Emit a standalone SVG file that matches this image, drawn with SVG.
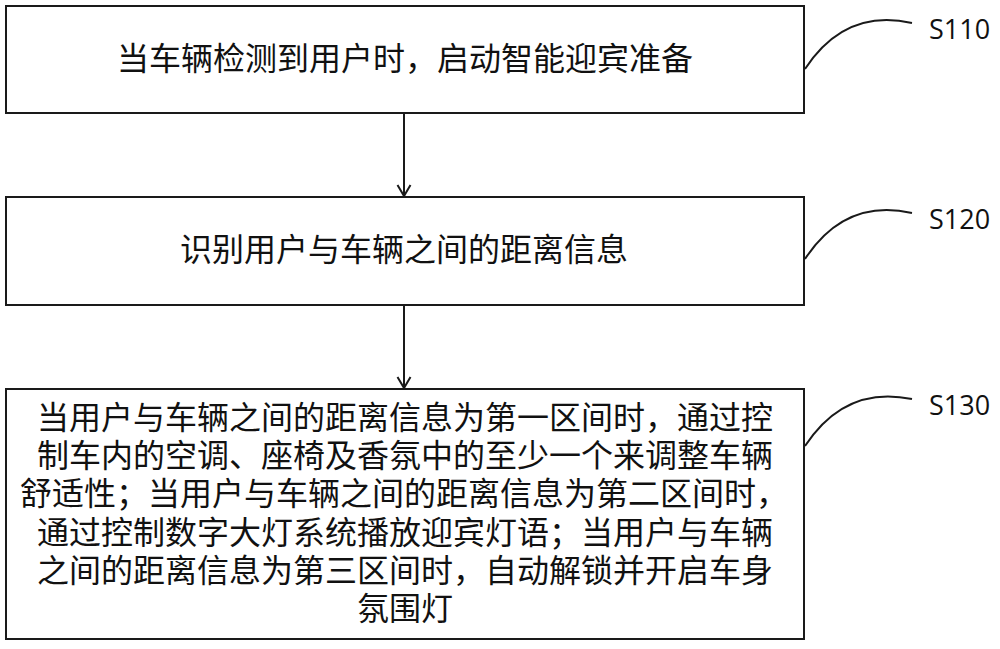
<svg xmlns="http://www.w3.org/2000/svg" width="1000" height="649" viewBox="0 0 1000 649">
<style>
.box{fill:#fff;stroke:#1a1a1a;stroke-width:2}
.t{font-family:"Noto Sans CJK SC","Noto Sans CJK JP",sans-serif;font-size:32px;fill:#111;text-anchor:middle}
.lbl{font-family:"Open Sans","Liberation Sans",sans-serif;font-size:27px;fill:#111}
.cur{fill:none;stroke:#1a1a1a;stroke-width:2}
.con{fill:none;stroke:#1a1a1a;stroke-width:2}
</style>
<rect width="1000" height="649" fill="#fff"/>
<g id="connectors">
<line class="con" x1="404" y1="113" x2="404" y2="196"/>
<polyline class="con" points="397.5,185 404,196 410.5,185"/>
<line class="con" x1="404" y1="305" x2="404" y2="388"/>
<polyline class="con" points="397.5,377 404,388 410.5,377"/>
<path class="cur" d="M805,69 Q845,8 912,23"/>
<path class="cur" d="M805,259 Q845,198 912,213"/>
<path class="cur" d="M805,446 Q845,385 912,399"/>
</g>
<g id="S110">
<rect class="box" x="6" y="6" width="798" height="107"/>
<text class="t" x="405" y="70">当车辆检测到用户时，启动智能迎宾准备</text>
<text class="lbl" x="929" y="39">S110</text>
</g>
<g id="S120">
<rect class="box" x="6" y="197" width="798" height="108"/>
<text class="t" x="404" y="261">识别用户与车辆之间的距离信息</text>
<text class="lbl" x="929" y="229">S120</text>
</g>
<g id="S130">
<rect class="box" x="6" y="389" width="798" height="250"/>
<text class="t" x="405" y="429">当用户与车辆之间的距离信息为第一区间时，通过控</text>
<text class="t" x="405" y="467">制车内的空调、座椅及香氛中的至少一个来调整车辆</text>
<text class="t" x="404" y="505">舒适性；当用户与车辆之间的距离信息为第二区间时，</text>
<text class="t" x="405" y="544">通过控制数字大灯系统播放迎宾灯语；当用户与车辆</text>
<text class="t" x="405" y="582">之间的距离信息为第三区间时，自动解锁并开启车身</text>
<text class="t" x="405" y="620">氛围灯</text>
<text class="lbl" x="929" y="415">S130</text>
</g>
</svg>
